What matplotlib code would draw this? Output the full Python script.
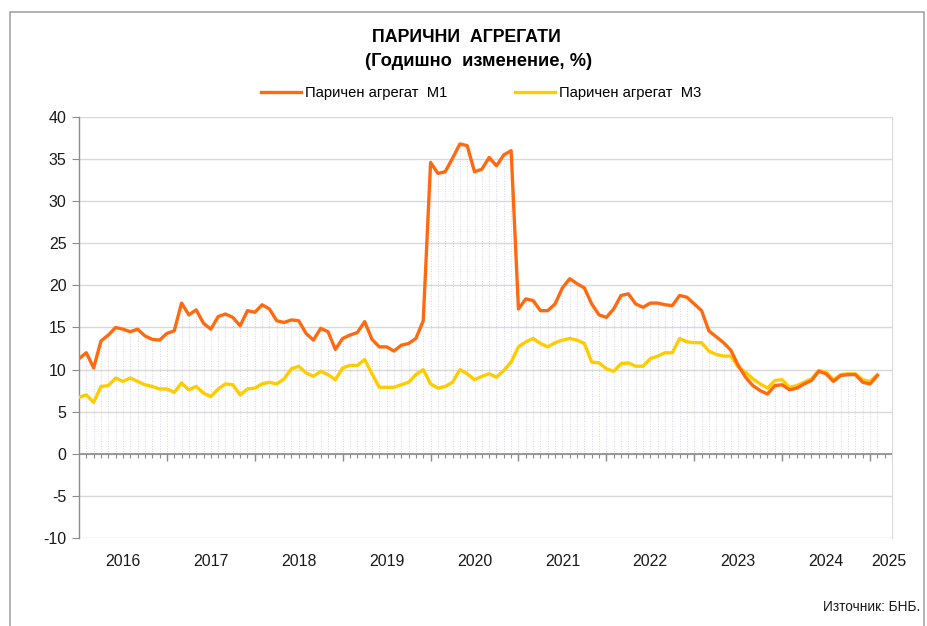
import numpy as np
import matplotlib
matplotlib.use("Agg")
import matplotlib.pyplot as plt
from matplotlib import font_manager
from matplotlib.patches import Rectangle

plt.rcParams['axes.unicode_minus'] = False

# ---------------- data (monthly, Jan 2016 .. Feb 2025) ----------------
m1 = [11.3, 12.0, 10.2, 13.4, 14.1, 15.0, 14.8, 14.5, 14.8, 14.0, 13.6, 13.5,
      14.3, 14.6, 17.9, 16.5, 17.1, 15.5, 14.8, 16.3, 16.6, 16.2, 15.2, 17.0,
      16.8, 17.7, 17.2, 15.8, 15.6, 15.9, 15.8, 14.3, 13.5, 14.9, 14.5, 12.4,
      13.7, 14.1, 14.4, 15.7, 13.6, 12.7, 12.7, 12.2, 12.9, 13.1, 13.7, 15.8,
      34.6, 33.3, 33.5, 35.1, 36.8, 36.6, 33.5, 33.8, 35.2, 34.2, 35.5, 36.0,
      17.2, 18.4, 18.2, 17.0, 17.0, 17.8, 19.7, 20.8, 20.2, 19.7, 17.8, 16.5,
      16.2, 17.2, 18.8, 19.0, 17.8, 17.4, 17.9, 17.9, 17.7, 17.6, 18.8, 18.6,
      17.8, 17.0, 14.6, 13.9, 13.2, 12.3, 10.5, 9.1, 8.1, 7.5, 7.1, 8.1,
      8.2, 7.6, 7.8, 8.3, 8.7, 9.8, 9.5, 8.6, 9.3, 9.4, 9.4, 8.5,
      8.3, 9.3]
m3 = [6.7, 7.0, 6.1, 8.0, 8.1, 9.0, 8.6, 9.0, 8.6, 8.2, 8.0, 7.7,
      7.7, 7.3, 8.4, 7.6, 8.0, 7.2, 6.8, 7.7, 8.3, 8.2, 7.0, 7.7,
      7.8, 8.3, 8.5, 8.3, 8.9, 10.1, 10.4, 9.6, 9.2, 9.8, 9.4, 8.8,
      10.2, 10.5, 10.5, 11.2, 9.5, 7.9, 7.9, 7.9, 8.2, 8.5, 9.4, 10.0,
      8.3, 7.8, 8.0, 8.5, 10.0, 9.5, 8.8, 9.2, 9.5, 9.1, 9.9, 10.9,
      12.7, 13.3, 13.7, 13.1, 12.7, 13.2, 13.5, 13.7, 13.5, 13.1, 10.9, 10.8,
      10.1, 9.8, 10.7, 10.8, 10.4, 10.4, 11.3, 11.6, 12.0, 12.0, 13.7, 13.3,
      13.2, 13.2, 12.2, 11.8, 11.6, 11.6, 10.3, 9.7, 8.9, 8.3, 7.8, 8.7,
      8.8, 7.9, 8.1, 8.5, 8.9, 9.9, 9.7, 8.8, 9.4, 9.5, 9.5, 8.8,
      8.6, 9.4]
years = ['2016', '2017', '2018', '2019', '2020', '2021', '2022', '2023', '2024', '2025']
label_m1 = 'Паричен агрегат  М1'
label_m3 = 'Паричен агрегат  М3'
title1 = 'ПАРИЧНИ  АГРЕГАТИ'
title2 = '(Годишно  изменение, %)'
source = 'Източник: БНБ.'

# ---------------- fonts ----------------
names = {f.name for f in font_manager.fontManager.ttflist}
if 'Liberation Sans Narrow' in names:
    NARROW = ['Liberation Sans Narrow', 'DejaVu Sans']
    nscale = 1.0
else:
    NARROW = ['Liberation Sans', 'DejaVu Sans']
    nscale = 0.85
REG = ['Liberation Sans', 'DejaVu Sans']

W, H = 927, 626
fig = plt.figure(figsize=(W / 100, H / 100), dpi=100)
ax = fig.add_axes([79 / W, (H - 538) / H, (892 - 79) / W, (538 - 117) / H])

x = np.arange(len(m1))
m1a = np.array(m1)
m3a = np.array(m3)

# drop lines
ax.vlines(x, 0, np.maximum(m1a, m3a), colors='#C9C5E0', linewidth=0.6,
          linestyles=(0, (1, 2)), zorder=1)

ax.plot(x, m1a, color='#FF6A10', lw=2.4, label=label_m1, zorder=4,
        solid_joinstyle='round')
ax.plot(x, m3a, color='#FFCC00', lw=2.4, label=label_m3, zorder=3,
        solid_joinstyle='round')

ax.set_xlim(0, 111)
ax.set_ylim(-10, 40)
ax.set_yticks(np.arange(-10, 41, 5))
ax.grid(axis='y', color='#D9D9D9', lw=1.0, zorder=0)
ax.set_axisbelow(True)

for s in ['top', 'bottom']:
    ax.spines[s].set_visible(False)
ax.spines['right'].set_color('#D9D9D9')
ax.spines['left'].set_color('#8C8C8C')
ax.spines['left'].set_linewidth(1.0)

ax.tick_params(axis='y', direction='out', length=5, color='#8C8C8C',
               labelsize=11.5, pad=4)
for t in ax.get_yticklabels():
    t.set_family(REG)
    t.set_color('#1A1A1A')

# zero axis line with month ticks
ax.axhline(0, color='#8C8C8C', lw=1.2, zorder=5)
ax.set_xticks([])
tr = ax.get_xaxis_transform()
ax.vlines(np.arange(1, 112), 0, -0.45, colors='#8C8C8C', lw=0.8, zorder=5)
ax.vlines(np.arange(12, 112, 12), 0, -0.8, colors='#8C8C8C', lw=1.0, zorder=5)

# year labels
ypos = [6 + 12 * k for k in range(9)] + [110.6]
for yp, lab in zip(ypos, years):
    ax.text(yp, -0.057, lab, transform=tr, ha='center', va='center',
            fontsize=13.5 * nscale, family=NARROW, color='#1A1A1A')

# titles
fig.text(466 / W, 1 - 37 / H, title1, ha='center', va='center',
         fontsize=15 * nscale, fontweight='bold', family=NARROW, color='#000000')
fig.text(479 / W, 1 - 62 / H, title2, ha='center', va='center',
         fontsize=15.5 * nscale, fontweight='bold', family=NARROW, color='#000000')

leg = fig.legend(loc='center', bbox_to_anchor=(481 / W, 1 - 93 / H), ncol=2,
                 frameon=False, handlelength=2.7, handletextpad=0.25,
                 columnspacing=4.6, prop={'family': NARROW, 'size': 12.5 * nscale})

fig.text(920 / W, 1 - 607 / H, source, ha='right', va='center',
         fontsize=11.5 * nscale, family=NARROW, color='#1A1A1A')

# outer frame
fig.patches.append(Rectangle((10 / W, -0.05), (924 - 10) / W, 1 - 12 / H + 0.05,
                             transform=fig.transFigure, fill=False,
                             edgecolor='#A6A6A6', lw=1.2))

fig.savefig('out.png', dpi=100)
